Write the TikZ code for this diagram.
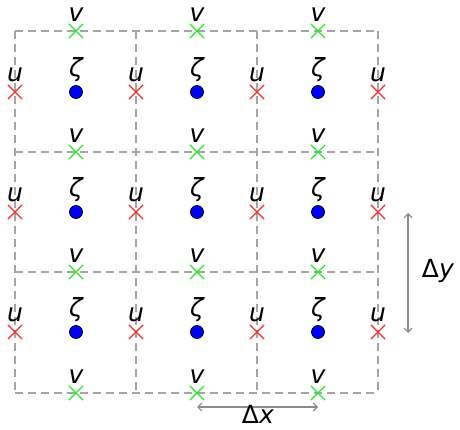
\documentclass[tikz,border=0pt]{standalone}
\usepackage{fontspec}
\setmainfont{DejaVu Sans}
\usetikzlibrary{shapes.misc,arrows.meta}
\definecolor{ured}{RGB}{255,40,40}
\definecolor{vgreen}{RGB}{40,235,40}
\definecolor{gridgray}{RGB}{165,165,165}
\tikzset{
  gridline/.style={gridgray, line width=1.3pt, dash pattern=on 8pt off 5pt},
  umark/.style={draw=ured, cross out, minimum size=13pt, inner sep=0pt, line width=1.2pt},
  vmark/.style={draw=vgreen, cross out, minimum size=13pt, inner sep=0pt, line width=1.2pt},
  zdot/.style={circle, fill=blue, draw=black, line width=0.7pt, minimum size=13pt, inner sep=0pt},
  lbl/.style={font=\fontsize{25}{25}\selectfont\itshape, inner sep=0pt},
  dim/.style={gridgray!85!black, line width=1.2pt, {Straight Barb[length=4pt,width=8pt]}-{Straight Barb[length=4pt,width=8pt]}},
  dimlbl/.style={font=\fontsize{25}{25}\selectfont, inner sep=0pt}
}
\begin{document}
\begin{tikzpicture}[x=1pt,y=-1pt]
\useasboundingbox (0,0) rectangle (460,430);
% grid
\foreach \x in {15,136,257,378} \draw[gridline] (\x,31) -- (\x,393);
\foreach \y in {31,152,272,393} \draw[gridline] (15,\y) -- (378,\y);
% u points
\foreach \y [count=\j] in {92,212,332} {
  \foreach \x [count=\i] in {15,136,257,378} {
    \node[umark] (u\i\j) at (\x,\y) {};
    \node[lbl] (lu\i\j) at (\x,\y-17) {u};
  }
}
% v points
\foreach \y [count=\j] in {31,152,272,393} {
  \foreach \x [count=\i] in {76,197,318} {
    \node[vmark] (v\i\j) at (\x,\y) {};
    \node[lbl] (lv\i\j) at (\x,\y-16) {v};
  }
}
% zeta points
\foreach \y [count=\j] in {92,212,332} {
  \foreach \x [count=\i] in {76,197,318} {
    \node[zdot] (z\i\j) at (\x,\y) {};
    \node[lbl] (lz\i\j) at (\x,\y-22) {ζ};
  }
}
% dimensions
\coordinate (dyt) at (408,213);
\coordinate (dyb) at (408,333);
\draw[dim] (dyt) -- (dyb);
\node[dimlbl] (dyl) at (438,271) {Δ\textit{y}};
\coordinate (dxl) at (197,407);
\coordinate (dxr) at (318,407);
\draw[dim] (dxl) -- (dxr);
\node[dimlbl] (dxlab) at (258,414) {Δ\textit{x}};
\end{tikzpicture}
\end{document}
